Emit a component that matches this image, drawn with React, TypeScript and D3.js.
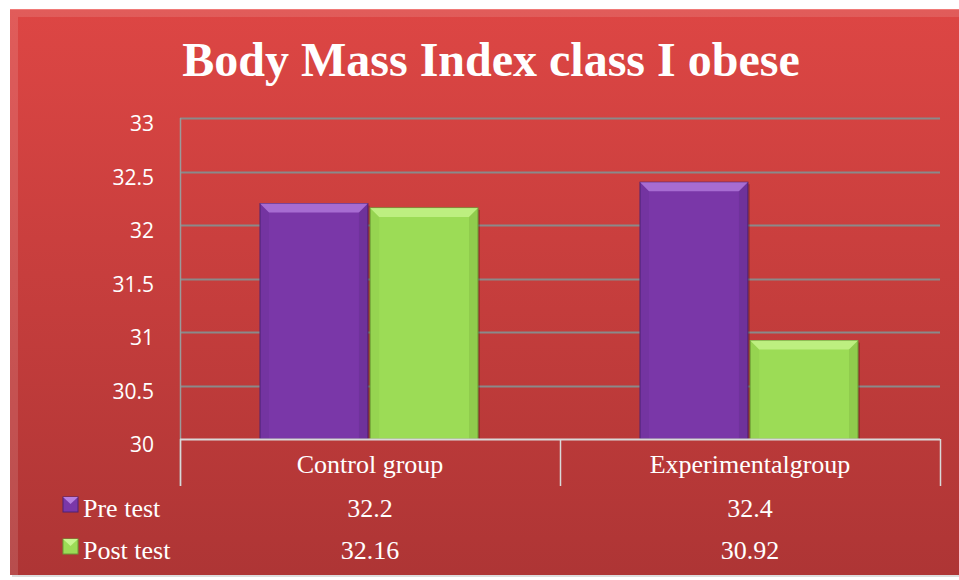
import * as d3 from 'd3'
import React from 'react'

// chart values
const categories = ['Control group', 'Experimentalgroup']
const seriesNames = ['Pre test', 'Post test']
const preTest = [32.2, 32.4]
const postTest = [32.16, 30.92]
const yTicks = [30, 30.5, 31, 31.5, 32, 32.5, 33]

const W = 959
const H = 580
const left = 180
const right = 940
const top = 118
const bottom = 439

export default function App() {
  const x0 = d3.scaleBand().domain(categories).range([left, right]).paddingInner(0).paddingOuter(0)
  const x1 = d3.scaleBand().domain(seriesNames).range([80, 298]).paddingInner(0.02)
  const y = d3.scaleLinear().domain([30, 33]).range([bottom, top])

  const series = [
    { name: seriesNames[0], values: preTest, fill: '#7a37a8', light: '#b77fe0', dark: '#4e2273' },
    { name: seriesNames[1], values: postTest, fill: '#9cdc56', light: '#c8f58f', dark: '#6a9b35' },
  ]

  const bevel = 9
  const serif = "'Liberation Serif', 'DejaVu Serif', serif"

  return (
    <svg width={W} height={H} style={{ position: 'absolute', left: 0, top: 0 }}>
      <defs>
        <linearGradient id="bg" x1="0" y1="0" x2="0" y2="1">
          <stop offset="0" stopColor="#dd4644" />
          <stop offset="1" stopColor="#ae3535" />
        </linearGradient>
      </defs>
      <rect x={0} y={0} width={W} height={H} fill="#fff" />
      <rect x={12} y={11} width={W} height={566} fill="#00000022" />
      <rect x={10} y={9} width={W} height={566} fill="url(#bg)" />
      <polygon points={`10,9 ${W},9 ${W},17 18,17 18,575 10,575`} fill="#ffffff" opacity={0.12} />
      <line x1={10} x2={W} y1={9.5} y2={9.5} stroke="#f07a78" strokeWidth={1} />

      <text x={491} y={76} textAnchor="middle" fill="#fff" fontFamily={serif} fontWeight="bold" fontSize={48}>
        Body Mass Index class I obese
      </text>

      {/* gridlines */}
      {yTicks.slice(1).map(t => (
        <line key={t} x1={left} x2={right} y1={Math.round(y(t)) + 0.5} y2={Math.round(y(t)) + 0.5} stroke="#8a8a8a" strokeWidth={2} />
      ))}
      {yTicks.map(t => (
        <text key={'l' + t} x={154} y={y(t) + 13} textAnchor="end" fill="#fff" fontFamily="'Open Sans', 'Noto Sans', sans-serif" fontSize={21}>
          {t}
        </text>
      ))}
      <line x1={left + 0.5} x2={left + 0.5} y1={top} y2={486} stroke="#9a9a9a" strokeWidth={1.5} />

      {/* bars */}
      {categories.map((c, ci) =>
        series.map(s => {
          const bx = (x0(c) as number) + (x1(s.name) as number)
          const bw = x1.bandwidth()
          const by = y(s.values[ci])
          const bh = bottom - by
          return (
            <g key={c + s.name}>
              <rect x={bx + 2} y={by + 2} width={bw} height={bh - 2} fill="#00000030" />
              <rect x={bx} y={by} width={bw} height={bh} fill={s.fill} stroke={s.dark} strokeWidth={1} />
              <polygon points={`${bx},${by} ${bx + bw},${by} ${bx + bw - bevel},${by + bevel} ${bx + bevel},${by + bevel}`} fill={s.light} opacity={0.75} />
              <polygon points={`${bx},${by} ${bx + bevel},${by + bevel} ${bx + bevel},${bottom} ${bx},${bottom}`} fill={s.dark} opacity={0.12} />
              <polygon points={`${bx + bw},${by} ${bx + bw - bevel},${by + bevel} ${bx + bw - bevel},${bottom} ${bx + bw},${bottom}`} fill={s.dark} opacity={0.25} />
            </g>
          )
        })
      )}

      {/* data table */}
      <line x1={left} x2={right} y1={439.5} y2={439.5} stroke="#d9d9d9" strokeWidth={2} />
      {[left, left + x0.bandwidth(), right].map(v => (
        <line key={'v' + v} x1={v + 0.5} x2={v + 0.5} y1={439} y2={486} stroke="#d9d9d9" strokeWidth={1.5} />
      ))}
      {categories.map(c => (
        <text key={'c' + c} x={(x0(c) as number) + x0.bandwidth() / 2} y={473} textAnchor="middle" fill="#fff" fontFamily={serif} fontSize={26}>
          {c}
        </text>
      ))}
      {series.map((s, si) => {
        const ry = 517 + si * 42
        return (
          <g key={'row' + s.name}>
            <rect x={63} y={ry - 20} width={15} height={15} fill={s.fill} stroke={s.dark} strokeWidth={1} />
            <polygon points={`${63},${ry - 20} ${78},${ry - 20} ${70.5},${ry - 13}`} fill={s.light} />
            <text x={83} y={ry} fill="#fff" fontFamily={serif} fontSize={26}>
              {s.name}
            </text>
            {categories.map((c, ci) => (
              <text key={c} x={(x0(c) as number) + x0.bandwidth() / 2} y={ry} textAnchor="middle" fill="#fff" fontFamily={serif} fontSize={26}>
                {s.values[ci]}
              </text>
            ))}
          </g>
        )
      })}
    </svg>
  )
}
